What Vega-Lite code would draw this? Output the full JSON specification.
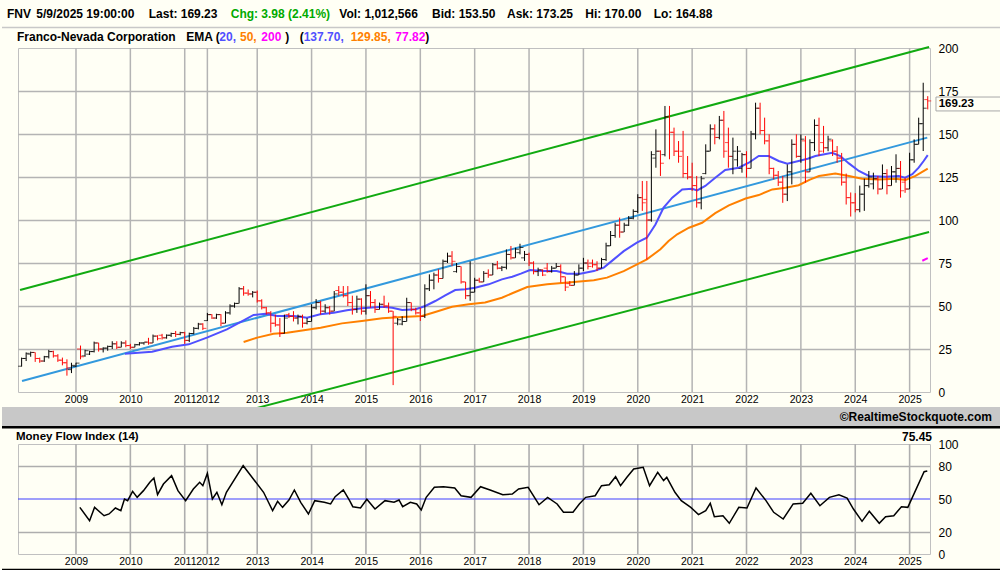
{
  "$schema": "https://vega.github.io/schema/vega-lite/v6.json",
  "description": "FNV monthly OHLC bars with EMA 20/50/200, regression channel and Money Flow Index (14).",
  "background": "#FFFFF5",
  "padding": 0,
  "autosize": {"type": "pad"},
  "bounds": "flush",
  "spacing": 52,
  "config": {
    "font": "Liberation Sans",
    "view": {"stroke": "#C0C0C0"},
    "axis": {"labelFont": "Liberation Sans", "labelColor": "#000000"}
  },
  "datasets": {
    "bars": [
      {"i":0,"o":15,"h":20,"l":14.8,"c":19.5},{"i":1,"o":19.5,"h":23,"l":18,"c":22.5},{"i":2,"o":22,"h":23.5,"l":20.5,"c":23},
      {"i":3,"o":23,"h":23,"l":17.5,"c":19.5},{"i":4,"o":19.5,"h":20,"l":17,"c":18},{"i":5,"o":18,"h":21,"l":17.5,"c":20.5},
      {"i":6,"o":20.5,"h":24.5,"l":19.5,"c":23.5},{"i":7,"o":23.5,"h":24,"l":20,"c":21},{"i":8,"o":21,"h":22,"l":17.5,"c":18.5},
      {"i":9,"o":18.5,"h":20,"l":15.5,"c":17},{"i":10,"o":17,"h":19,"l":9.5,"c":14},{"i":11,"o":13,"h":17,"l":11,"c":15.5},
      {"i":12,"o":15,"h":17,"l":14.5,"c":16.8},{"i":13,"o":25,"h":27,"l":19,"c":20.5},{"i":14,"o":21,"h":24.6,"l":20.5,"c":24},
      {"i":15,"o":22,"h":24,"l":21.5,"c":23.5},{"i":16,"o":23.5,"h":29.3,"l":23,"c":28.5},{"i":17,"o":28.5,"h":28.6,"l":23.5,"c":25},
      {"i":18,"o":25,"h":26,"l":23,"c":25.5},{"i":19,"o":25.5,"h":27,"l":24,"c":26.5},{"i":20,"o":26.5,"h":29.5,"l":25,"c":28},
      {"i":21,"o":28,"h":29.5,"l":25,"c":26},{"i":22,"o":26,"h":29.5,"l":26,"c":28.5},{"i":23,"o":28.5,"h":30,"l":26,"c":27},
      {"i":24,"o":27,"h":28,"l":25,"c":26},{"i":25,"o":26,"h":28,"l":26,"c":27.5},{"i":26,"o":27.5,"h":29,"l":27,"c":28.5},
      {"i":27,"o":28.5,"h":29,"l":27.5,"c":29},{"i":28,"o":29,"h":31.5,"l":27.5,"c":28.5},{"i":29,"o":28.5,"h":33.4,"l":28.5,"c":32.5},
      {"i":30,"o":32.5,"h":33,"l":30,"c":31},{"i":31,"o":33,"h":33.8,"l":30.5,"c":31.5},{"i":32,"o":31.5,"h":33.5,"l":31,"c":33},
      {"i":33,"o":33,"h":34.5,"l":32,"c":34},{"i":34,"o":34,"h":35.5,"l":32,"c":33.5},{"i":35,"o":33.5,"h":35,"l":33,"c":34.5},
      {"i":36,"o":34.5,"h":35,"l":28,"c":30},{"i":37,"o":30,"h":34.5,"l":29,"c":34},{"i":38,"o":34,"h":37.8,"l":33.5,"c":37},
      {"i":39,"o":37,"h":40.2,"l":36.4,"c":39.5},{"i":40,"o":39.5,"h":40,"l":36,"c":37},{"i":41,"o":41.5,"h":46,"l":41.3,"c":45},
      {"i":42,"o":45,"h":45.2,"l":42.5,"c":43},{"i":43,"o":43,"h":45.5,"l":42.5,"c":45},{"i":44,"o":45,"h":45.2,"l":38.3,"c":40},
      {"i":45,"o":40,"h":47,"l":40,"c":46},{"i":46,"o":46,"h":51,"l":45,"c":50},{"i":47,"o":50,"h":52,"l":49,"c":51.5},
      {"i":48,"o":51.5,"h":61,"l":51.5,"c":60},{"i":49,"o":60,"h":61.6,"l":56,"c":57.5},{"i":50,"o":57.5,"h":59.6,"l":56,"c":57},
      {"i":51,"o":57,"h":58.7,"l":55,"c":58},{"i":52,"o":58,"h":59,"l":52,"c":53},{"i":53,"o":53,"h":53.9,"l":48,"c":49},
      {"i":54,"o":49,"h":49.5,"l":45,"c":46},{"i":55,"o":46,"h":47,"l":34.6,"c":40},{"i":56,"o":40,"h":45,"l":38,"c":39},
      {"i":57,"o":39,"h":43,"l":32,"c":34},{"i":58,"o":34,"h":45,"l":34,"c":43},{"i":59,"o":45,"h":46,"l":43,"c":44},
      {"i":60,"o":44,"h":47,"l":41,"c":43},{"i":61,"o":43,"h":45,"l":39.3,"c":44},{"i":62,"o":44,"h":45,"l":37.4,"c":40},
      {"i":63,"o":40,"h":43,"l":39.3,"c":41},{"i":64,"o":41,"h":51,"l":41,"c":49},{"i":65,"o":49,"h":54,"l":48,"c":52},
      {"i":66,"o":52,"h":53,"l":45,"c":47},{"i":67,"o":47,"h":51,"l":46,"c":49},{"i":68,"o":49,"h":50,"l":45,"c":47},
      {"i":69,"o":47,"h":58.7,"l":47,"c":57},{"i":70,"o":59,"h":61.6,"l":56,"c":58},{"i":71,"o":58,"h":61.6,"l":55,"c":56},
      {"i":72,"o":56,"h":61.6,"l":50,"c":52},{"i":73,"o":52,"h":56,"l":45,"c":48},{"i":74,"o":48,"h":56,"l":46,"c":54},
      {"i":75,"o":54,"h":54.5,"l":45,"c":47},{"i":76,"o":47,"h":62.6,"l":45,"c":56},{"i":77,"o":56,"h":58.7,"l":49,"c":52},
      {"i":78,"o":52,"h":54,"l":46,"c":48},{"i":79,"o":48,"h":52,"l":48,"c":51},{"i":80,"o":51,"h":56,"l":49,"c":50},
      {"i":81,"o":50,"h":52,"l":46,"c":47},{"i":82,"o":47,"h":47,"l":4,"c":44},{"i":83,"o":40,"h":43,"l":38.8,"c":42},
      {"i":84,"o":39.5,"h":44,"l":38.8,"c":41},{"i":85,"o":41,"h":54.8,"l":41,"c":52},{"i":86,"o":52,"h":52,"l":47,"c":48},
      {"i":87,"o":48,"h":49,"l":45,"c":46},{"i":88,"o":46,"h":49,"l":41.3,"c":44},{"i":89,"o":44,"h":62.6,"l":43,"c":60},
      {"i":90,"o":60,"h":68.4,"l":58.7,"c":65},{"i":91,"o":65,"h":69.4,"l":59.7,"c":68},{"i":92,"o":68,"h":71.3,"l":63.6,"c":66},
      {"i":93,"o":66,"h":77,"l":66,"c":76},{"i":94,"o":76,"h":81,"l":75,"c":79},{"i":95,"o":79,"h":81.9,"l":73.3,"c":76},
      {"i":96,"o":70,"h":75,"l":69.4,"c":73},{"i":97,"o":73,"h":73,"l":63,"c":64},{"i":98,"o":64,"h":64,"l":54,"c":56},
      {"i":99,"o":56,"h":76,"l":53,"c":58},{"i":100,"o":58,"h":66.4,"l":58,"c":65},{"i":101,"o":65,"h":66.4,"l":63.6,"c":64},
      {"i":102,"o":64,"h":70.3,"l":64,"c":69},{"i":103,"o":69,"h":71.3,"l":66.4,"c":68},{"i":104,"o":68,"h":75,"l":68,"c":74},
      {"i":105,"o":74,"h":76.2,"l":71.3,"c":72},{"i":106,"o":72,"h":73.3,"l":70.3,"c":72.5},{"i":107,"o":72.5,"h":82.9,"l":71.3,"c":80},
      {"i":108,"o":80,"h":84.9,"l":77,"c":78},{"i":109,"o":78,"h":83.9,"l":78,"c":83},{"i":110,"o":81,"h":86.2,"l":80,"c":84},
      {"i":111,"o":78,"h":82,"l":76.2,"c":80},{"i":112,"o":80,"h":81,"l":73.3,"c":75},{"i":113,"o":75,"h":76,"l":68.4,"c":70},
      {"i":114,"o":70,"h":72.3,"l":67.4,"c":71},{"i":115,"o":71,"h":71.3,"l":67.4,"c":68},{"i":116,"o":72,"h":75,"l":69.4,"c":70},
      {"i":117,"o":70,"h":73.3,"l":69.4,"c":72},{"i":118,"o":72,"h":75,"l":72,"c":73},{"i":119,"o":73,"h":74.2,"l":63.6,"c":67},
      {"i":120,"o":67,"h":67,"l":58.7,"c":61},{"i":121,"o":63,"h":64.5,"l":61.6,"c":62},{"i":122,"o":62,"h":70.3,"l":62,"c":68},
      {"i":123,"o":68,"h":74.2,"l":68,"c":72},{"i":124,"o":72,"h":78,"l":70.3,"c":75},{"i":125,"o":75,"h":77,"l":71.3,"c":73},
      {"i":126,"o":75,"h":77,"l":72.3,"c":74},{"i":127,"o":74,"h":76,"l":70.3,"c":72},{"i":128,"o":72,"h":78,"l":72,"c":77},
      {"i":129,"o":77,"h":86.8,"l":76.2,"c":85},{"i":130,"o":85,"h":93.6,"l":84.9,"c":91},{"i":131,"o":91,"h":98.4,"l":89.7,"c":97},
      {"i":132,"o":97,"h":101.4,"l":89.7,"c":93},{"i":133,"o":93,"h":98.4,"l":93,"c":97},{"i":134,"o":97,"h":102.3,"l":96.5,"c":101},
      {"i":135,"o":101,"h":106.2,"l":100.4,"c":105},{"i":136,"o":105,"h":115,"l":104,"c":113},{"i":137,"o":113,"h":122.7,"l":105.3,"c":110},
      {"i":138,"o":112,"h":122.7,"l":77.1,"c":100},{"i":139,"o":100,"h":140,"l":99,"c":138},{"i":140,"o":136,"h":152.7,"l":130.4,"c":140},
      {"i":141,"o":140,"h":140.5,"l":125.6,"c":133},{"i":142,"o":138,"h":166.3,"l":137,"c":160},{"i":143,"o":160,"h":166.3,"l":135.3,"c":151},
      {"i":144,"o":151,"h":153.7,"l":137.2,"c":140},{"i":145,"o":140,"h":145.9,"l":133.3,"c":137},{"i":146,"o":140,"h":151.8,"l":124.6,"c":127},
      {"i":147,"o":127,"h":137.2,"l":123.6,"c":125},{"i":148,"o":125,"h":133.3,"l":116.9,"c":120},{"i":149,"o":120,"h":125.6,"l":107.2,"c":110},
      {"i":150,"o":110,"h":125.6,"l":106.2,"c":124},{"i":151,"o":127,"h":144,"l":126.6,"c":140},{"i":152,"o":140,"h":155.6,"l":140,"c":153},
      {"i":153,"o":153,"h":155.6,"l":144,"c":148},{"i":154,"o":148,"h":160.5,"l":146.9,"c":158},{"i":155,"o":158,"h":163.4,"l":136.2,"c":140},
      {"i":156,"o":145,"h":153.7,"l":130.4,"c":137},{"i":157,"o":137,"h":147.9,"l":126.6,"c":140},{"i":158,"o":135,"h":143,"l":131,"c":140},
      {"i":159,"o":130,"h":139,"l":127.5,"c":138},{"i":160,"o":138,"h":140,"l":124.6,"c":130},{"i":161,"o":130,"h":151.8,"l":130,"c":150},
      {"i":162,"o":150,"h":168.2,"l":146.9,"c":165},{"i":163,"o":165,"h":168.2,"l":149.8,"c":152},{"i":164,"o":152,"h":159.5,"l":144,"c":146},
      {"i":165,"o":146,"h":149.8,"l":126.6,"c":130},{"i":166,"o":130,"h":130.4,"l":123.6,"c":126},{"i":167,"o":126,"h":128.5,"l":119.8,"c":122},
      {"i":168,"o":122,"h":125.6,"l":110,"c":115},{"i":169,"o":115,"h":132.3,"l":111,"c":128},{"i":170,"o":128,"h":146.9,"l":120.7,"c":144},
      {"i":171,"o":144,"h":149.8,"l":136.2,"c":137},{"i":172,"o":137,"h":149.8,"l":133.3,"c":147},{"i":173,"o":146,"h":148.8,"l":121.7,"c":128},
      {"i":174,"o":128,"h":146.9,"l":128,"c":145},{"i":175,"o":145,"h":158.5,"l":140.1,"c":155},{"i":176,"o":155,"h":159.5,"l":137.2,"c":140},
      {"i":177,"o":145,"h":154.7,"l":139.1,"c":142},{"i":178,"o":142,"h":149,"l":140,"c":147},{"i":179,"o":146,"h":146.9,"l":137.2,"c":140},
      {"i":180,"o":140,"h":143,"l":133.3,"c":136},{"i":181,"o":136,"h":139,"l":120,"c":122},{"i":182,"o":122,"h":127,"l":109,"c":113},
      {"i":183,"o":113,"h":116,"l":102,"c":110},{"i":184,"o":110,"h":115.6,"l":104.5,"c":106},{"i":185,"o":106,"h":120,"l":104.5,"c":115},
      {"i":186,"o":115,"h":124,"l":105.3,"c":120},{"i":187,"o":120,"h":128.5,"l":118.8,"c":125},{"i":188,"o":121,"h":127.5,"l":117.8,"c":124},
      {"i":189,"o":124,"h":125.6,"l":114.9,"c":118},{"i":190,"o":118,"h":132.3,"l":118,"c":127},{"i":191,"o":127,"h":129.5,"l":114.9,"c":120},
      {"i":192,"o":120,"h":131.4,"l":120,"c":128},{"i":193,"o":128,"h":138.2,"l":121.7,"c":130},{"i":194,"o":130,"h":134.3,"l":113,"c":117},
      {"i":195,"o":122,"h":124.6,"l":115.8,"c":118},{"i":196,"o":118,"h":139.1,"l":118,"c":135},{"i":197,"o":135,"h":146.9,"l":133.3,"c":144},
      {"i":198,"o":144,"h":159.5,"l":144,"c":156},{"i":199,"o":156,"h":179.8,"l":140.1,"c":165},{"i":200,"o":170,"h":172,"l":164.3,"c":169.23}
    ],
    "channel": [
      {"line":"upper","i":-0.35,"v":59.3},{"line":"upper","i":200.3,"v":200.6},
      {"line":"mid","i":0.09,"v":6.4},{"line":"mid","i":199.9,"v":147.9},
      {"line":"lower","i":48,"v":-12.03},{"line":"lower","i":200.3,"v":93.0}
    ],
    "ema20": [
      {"i":22.8,"v":22.3},{"i":28.8,"v":23.4},{"i":33.2,"v":26.3},{"i":36.9,"v":27.7},{"i":40.9,"v":31.6},{"i":45.3,"v":36.4},
      {"i":49,"v":41.7},{"i":51.2,"v":44.8},{"i":53.8,"v":45.5},{"i":56.4,"v":44.2},{"i":60.1,"v":44.2},{"i":63,"v":43.2},
      {"i":65.9,"v":45.2},{"i":68.9,"v":46.1},{"i":71.8,"v":47.5},{"i":75.1,"v":48.7},{"i":79.6,"v":49.6},{"i":81.8,"v":49},
      {"i":84,"v":47.7},{"i":87,"v":48.1},{"i":89.1,"v":50},{"i":91.3,"v":52.9},{"i":93.5,"v":56.2},{"i":95.7,"v":59.3},
      {"i":97.9,"v":59.7},{"i":100.1,"v":60.6},{"i":103.1,"v":62.6},{"i":106,"v":65.5},{"i":108.3,"v":67},{"i":110.2,"v":68.8},
      {"i":112.2,"v":70.9},{"i":115.1,"v":70.3},{"i":118.1,"v":70.3},{"i":120.4,"v":68.8},{"i":123.3,"v":68.8},{"i":126.3,"v":70.3},
      {"i":128.5,"v":72.3},{"i":130.7,"v":77.1},{"i":132.9,"v":81.9},{"i":135.8,"v":86.8},{"i":138,"v":89.7},{"i":139.9,"v":97.4},
      {"i":141.7,"v":107.2},{"i":143.6,"v":113},{"i":145.8,"v":117.8},{"i":148,"v":118.2},{"i":149.1,"v":117.2},{"i":150.9,"v":119.8},
      {"i":153.1,"v":124.6},{"i":155.3,"v":129.1},{"i":158.3,"v":130.4},{"i":160.5,"v":133.3},{"i":162.7,"v":137.2},{"i":164.9,"v":137.2},
      {"i":167.1,"v":134.3},{"i":169,"v":132.7},{"i":171.5,"v":134.3},{"i":173.5,"v":135.6},{"i":175.2,"v":137.2},{"i":178.9,"v":139.1},
      {"i":180.7,"v":137.2},{"i":182.6,"v":132.9},{"i":184.8,"v":128.5},{"i":187,"v":125.6},{"i":190.7,"v":125.2},{"i":193.6,"v":125.6},
      {"i":195,"v":124.6},{"i":196.6,"v":126.6},{"i":198,"v":130.4},{"i":199.1,"v":134.3},{"i":200,"v":137.7}
    ],
    "ema50": [
      {"i":49,"v":29.1},{"i":52,"v":31.6},{"i":55.6,"v":33.9},{"i":58.6,"v":34.5},{"i":62.3,"v":35.9},{"i":66,"v":37.4},
      {"i":70.7,"v":39.9},{"i":75.1,"v":41.3},{"i":79.6,"v":42.9},{"i":84,"v":43.6},{"i":88.4,"v":44.2},{"i":91.3,"v":46.5},
      {"i":95,"v":49.6},{"i":98.7,"v":51},{"i":102.3,"v":52},{"i":106,"v":54.8},{"i":108.3,"v":57.4},{"i":111.6,"v":61},
      {"i":116,"v":62.6},{"i":121.9,"v":64},{"i":126.3,"v":65},{"i":129.2,"v":66.5},{"i":132.9,"v":70.3},{"i":136.6,"v":75.2},
      {"i":138,"v":77.1},{"i":141,"v":83},{"i":142.8,"v":87.8},{"i":144.7,"v":91.7},{"i":147.3,"v":95.5},{"i":150.2,"v":98.4},
      {"i":153.1,"v":104},{"i":156.1,"v":108.5},{"i":159.8,"v":112.5},{"i":162.7,"v":114.5},{"i":165.7,"v":117.8},{"i":168.6,"v":118.8},
      {"i":171.5,"v":120.2},{"i":174,"v":123.5},{"i":176,"v":125.6},{"i":179.6,"v":127},{"i":182.6,"v":125.6},{"i":185.5,"v":124},
      {"i":189.2,"v":123.6},{"i":192.9,"v":124},{"i":195.1,"v":123.3},{"i":197.3,"v":125.6},{"i":200,"v":129.85}
    ],
    "ema200": [{"i":198.8,"v":76.3},{"i":200,"v":77.82}],
    "mfi": [
      {"i":12.85,"v":42.4},{"i":15,"v":30.3},{"i":16.1,"v":42.4},{"i":18.2,"v":34.8},{"i":19.3,"v":36.4},{"i":20.7,"v":41.8},
      {"i":21.9,"v":39.4},{"i":22.7,"v":50},{"i":23.4,"v":48.5},{"i":24.5,"v":57},{"i":25.5,"v":51.5},{"i":26.9,"v":57.6},
      {"i":28.3,"v":65.2},{"i":29.2,"v":69.1},{"i":30,"v":54},{"i":31.3,"v":63.6},{"i":33.1,"v":71.2},{"i":34.5,"v":57.6},
      {"i":36.2,"v":48.5},{"i":37.9,"v":59.1},{"i":39.3,"v":65.2},{"i":40,"v":62.1},{"i":41,"v":73.3},{"i":42.1,"v":50},
      {"i":43.1,"v":56.1},{"i":44.2,"v":44.8},{"i":45.2,"v":56.1},{"i":48.9,"v":80.3},{"i":50.6,"v":71.2},{"i":53.4,"v":56.1},
      {"i":55.4,"v":39.4},{"i":56.5,"v":47.9},{"i":57.6,"v":42.4},{"i":59,"v":49.1},{"i":60.2,"v":58.2},{"i":61.6,"v":47},
      {"i":63.3,"v":36.4},{"i":64.7,"v":48.5},{"i":66.8,"v":47},{"i":68.2,"v":45.5},{"i":69.2,"v":52.1},{"i":71,"v":58.2},
      {"i":72.4,"v":48.5},{"i":73.1,"v":43},{"i":74.8,"v":41.8},{"i":76.2,"v":49.7},{"i":78,"v":40.9},{"i":80.2,"v":48.5},
      {"i":82.2,"v":47},{"i":83.3,"v":49.1},{"i":84.1,"v":43},{"i":85.8,"v":47},{"i":87.2,"v":45.5},{"i":88.2,"v":40},
      {"i":89.3,"v":51.5},{"i":91.1,"v":60.6},{"i":93.1,"v":61.2},{"i":95.6,"v":60},{"i":97,"v":53},{"i":99.2,"v":51.5},
      {"i":101.3,"v":61.2},{"i":103.4,"v":58.2},{"i":106.2,"v":53.9},{"i":108.3,"v":54.5},{"i":109.7,"v":59.1},{"i":111.8,"v":60.6},
      {"i":114.2,"v":44.8},{"i":116.1,"v":51.5},{"i":118.2,"v":45.5},{"i":119.6,"v":37.9},{"i":121.7,"v":37.9},{"i":123.1,"v":45.5},
      {"i":124.5,"v":51.5},{"i":126.6,"v":53},{"i":128,"v":62.1},{"i":129.7,"v":63},{"i":131.1,"v":70.3},{"i":132.2,"v":62.1},
      {"i":133.6,"v":69.7},{"i":135.1,"v":77.3},{"i":137.2,"v":78.8},{"i":138.6,"v":62.1},{"i":140.4,"v":74.2},{"i":141.7,"v":66.7},
      {"i":142.4,"v":69.7},{"i":144.2,"v":56.1},{"i":145.6,"v":48.5},{"i":147.7,"v":42.4},{"i":149.4,"v":35.8},{"i":151,"v":39.4},
      {"i":152,"v":46.1},{"i":152.9,"v":33.9},{"i":154.8,"v":34.8},{"i":156.2,"v":27.9},{"i":158.3,"v":42.4},{"i":160.1,"v":41.8},
      {"i":162.1,"v":60},{"i":164.3,"v":48.5},{"i":166,"v":37.9},{"i":168.1,"v":31.8},{"i":170.3,"v":45.5},{"i":172.4,"v":46.1},
      {"i":174.2,"v":55.2},{"i":176.2,"v":43.9},{"i":178.3,"v":51.5},{"i":180.4,"v":53.9},{"i":182.2,"v":50.9},{"i":183.6,"v":40.9},
      {"i":185.5,"v":29.7},{"i":187.1,"v":38.8},{"i":189.3,"v":27.9},{"i":190.7,"v":33.9},{"i":192.5,"v":34.8},{"i":194.2,"v":43},
      {"i":195.6,"v":42.4},{"i":199.2,"v":74.8},{"i":199.9,"v":75.45}
    ]
  },
  "vconcat": [
    {
      "width": 912,
      "height": 344,
      "resolve": {"axis": {"x": "independent", "y": "independent"}},
      "layer": [
        {
          "data": {"values": [{}]},
          "mark": {"type": "rect", "opacity": 0},
          "encoding": {
            "x": {"datum": -4.33158, "axis": null}, "x2": {"datum": 216.3921},
            "y": {"datum": 227.32558, "axis": null}, "y2": {"datum": -104.06977}
          }
        },
        {
          "data": {"name": "bars"},
          "transform": [{"filter": "indexof([12, 24, 36, 41, 52, 64, 76, 88, 100, 112, 124, 136, 148, 160, 172, 184, 196], datum.i) >= 0"}],
          "mark": {"type": "rule", "color": "#B4B4B4", "strokeWidth": 1.5},
          "encoding": {"x": {"field": "i", "type": "quantitative", "axis": null}}
        },
        {"data": {"values": [{}]}, "mark": {"type": "rule", "color": "#B4B4B4", "strokeWidth": 1.5, "yOffset": 0.5}, "encoding": {"y": {"datum": 25, "axis": null}}},
        {"data": {"values": [{}]}, "mark": {"type": "rule", "color": "#B4B4B4", "strokeWidth": 1.5, "yOffset": 0.5}, "encoding": {"y": {"datum": 50, "axis": null}}},
        {"data": {"values": [{}]}, "mark": {"type": "rule", "color": "#B4B4B4", "strokeWidth": 1.5, "yOffset": 0.5}, "encoding": {"y": {"datum": 75, "axis": null}}},
        {"data": {"values": [{}]}, "mark": {"type": "rule", "color": "#B4B4B4", "strokeWidth": 1.5, "yOffset": 0.5}, "encoding": {"y": {"datum": 100, "axis": null}}},
        {"data": {"values": [{}]}, "mark": {"type": "rule", "color": "#B4B4B4", "strokeWidth": 1.5, "yOffset": 0.5}, "encoding": {"y": {"datum": 125, "axis": null}}},
        {"data": {"values": [{}]}, "mark": {"type": "rule", "color": "#B4B4B4", "strokeWidth": 1.5, "yOffset": 0.5}, "encoding": {"y": {"datum": 150, "axis": null}}},
        {"data": {"values": [{}]}, "mark": {"type": "rule", "color": "#B4B4B4", "strokeWidth": 1.5, "yOffset": 0.5}, "encoding": {"y": {"datum": 175, "axis": null}}},
        {
          "data": {"values": [{}]},
          "mark": {"type": "rule", "color": "#C8C8C8", "strokeWidth": 1.5},
          "encoding": {
            "x": {"datum": -4.33158, "axis": null}, "x2": {"datum": 216.3921},
            "y": {"datum": 211.9, "axis": null}
          }
        },
        {
          "data": {"name": "channel"},
          "mark": {"type": "line", "strokeWidth": 2},
          "encoding": {
            "x": {"field": "i", "type": "quantitative", "axis": null},
            "y": {"field": "v", "type": "quantitative", "axis": null},
            "detail": {"field": "line"},
            "color": {
              "field": "line", "type": "nominal",
              "scale": {"domain": ["upper", "mid", "lower"], "range": ["#11AA11", "#3399DD", "#11AA11"]},
              "legend": null
            }
          }
        },
        {
          "data": {"name": "ema50"},
          "mark": {"type": "line", "color": "#FF8000", "strokeWidth": 2},
          "encoding": {
            "x": {"field": "i", "type": "quantitative", "axis": null},
            "y": {"field": "v", "type": "quantitative", "axis": null}
          }
        },
        {
          "data": {"name": "ema20"},
          "mark": {"type": "line", "color": "#5050FF", "strokeWidth": 2},
          "encoding": {
            "x": {"field": "i", "type": "quantitative", "axis": null},
            "y": {"field": "v", "type": "quantitative", "axis": null}
          }
        },
        {
          "data": {"name": "ema200"},
          "mark": {"type": "line", "color": "#FF00FF", "strokeWidth": 2},
          "encoding": {
            "x": {"field": "i", "type": "quantitative", "axis": null},
            "y": {"field": "v", "type": "quantitative", "axis": null}
          }
        },
        {
          "data": {"name": "bars"},
          "mark": {"type": "rule", "strokeWidth": 1},
          "encoding": {
            "x": {
              "field": "i", "type": "quantitative",
              "scale": {"domain": [-0.8, 200.5], "nice": false, "zero": false},
              "axis": {
                "values": [12, 24, 36, 41, 52, 64, 76, 88, 100, 112, 124, 136, 148, 160, 172, 184, 196],
                "labelExpr": "datum.value == 41 ? '2012' : '' + (datum.value < 41 ? 2008 + datum.value / 12 : 2013 + (datum.value - 52) / 12)",
                "title": null, "grid": false, "ticks": false, "domain": false,
                "labelPadding": 2, "labelFontSize": 10.5, "labelOverlap": false, "labelFlush": false
              }
            },
            "y": {
              "field": "h", "type": "quantitative",
              "scale": {"domain": [0, 200], "nice": false, "zero": false},
              "axis": {
                "orient": "right", "values": [0, 25, 50, 75, 100, 125, 150, 175, 200],
                "title": null, "grid": false, "ticks": false, "domain": false,
                "labelPadding": 8, "labelFontSize": 12, "labelAlign": "left", "labelOverlap": false
              }
            },
            "y2": {"field": "l"},
            "color": {"condition": {"test": "datum.c < datum.o", "value": "#FF0000"}, "value": "#000000"}
          }
        },
        {
          "data": {"name": "bars"},
          "mark": {"type": "tick", "orient": "horizontal", "size": 3.5, "thickness": 1, "xOffset": -1.75},
          "encoding": {
            "x": {"field": "i", "type": "quantitative", "axis": null},
            "y": {"field": "o", "type": "quantitative", "axis": null},
            "color": {"condition": {"test": "datum.c < datum.o", "value": "#FF0000"}, "value": "#000000"}
          }
        },
        {
          "data": {"name": "bars"},
          "mark": {"type": "tick", "orient": "horizontal", "size": 3.5, "thickness": 1, "xOffset": 1.75},
          "encoding": {
            "x": {"field": "i", "type": "quantitative", "axis": null},
            "y": {"field": "c", "type": "quantitative", "axis": null},
            "color": {"condition": {"test": "datum.c < datum.o", "value": "#FF0000"}, "value": "#000000"}
          }
        },
        {
          "data": {"values": [{}]},
          "mark": {"type": "rect", "color": "#C8C8C8"},
          "encoding": {
            "x": {"datum": -4.33158, "axis": null}, "x2": {"datum": 216.3921},
            "y": {"datum": -8.72, "axis": null}, "y2": {"datum": -19.77}
          }
        },
        {
          "data": {"values": [{}]},
          "mark": {"type": "rect", "color": "#000000"},
          "encoding": {
            "x": {"datum": -4.33158, "axis": null}, "x2": {"datum": 216.3921},
            "y": {"datum": -19.77, "axis": null}, "y2": {"datum": -21.22}
          }
        },
        {
          "data": {"values": [{}]},
          "mark": {"type": "rect", "color": "#000000"},
          "encoding": {
            "x": {"datum": -4.33158, "axis": null}, "x2": {"datum": 216.3921},
            "y": {"datum": -102.73, "axis": null}, "y2": {"datum": -104.06977}
          }
        },
        {"data": {"values": [{}]}, "mark": {"type": "text", "text": "FNV", "align": "left", "baseline": "middle", "fontSize": 12, "fontWeight": "bold", "color": "#000000"},
         "encoding": {"x": {"datum": -3.23, "axis": null}, "y": {"datum": 219.6, "axis": null}}},
        {"data": {"values": [{}]}, "mark": {"type": "text", "text": "5/9/2025 19:00:00", "align": "left", "baseline": "middle", "fontSize": 12, "fontWeight": "bold", "color": "#000000"},
         "encoding": {"x": {"datum": 3.24, "axis": null}, "y": {"datum": 219.6, "axis": null}}},
        {"data": {"values": [{}]}, "mark": {"type": "text", "text": "Last: 169.23", "align": "left", "baseline": "middle", "fontSize": 12, "fontWeight": "bold", "color": "#000000"},
         "encoding": {"x": {"datum": 28.05, "axis": null}, "y": {"datum": 219.6, "axis": null}}},
        {"data": {"values": [{}]}, "mark": {"type": "text", "text": "Chg: 3.98 (2.41%)", "align": "left", "baseline": "middle", "fontSize": 12, "fontWeight": "bold", "color": "#00AA00"},
         "encoding": {"x": {"datum": 46.15, "axis": null}, "y": {"datum": 219.6, "axis": null}}},
        {"data": {"values": [{}]}, "mark": {"type": "text", "text": "Vol: 1,012,566", "align": "left", "baseline": "middle", "fontSize": 12, "fontWeight": "bold", "color": "#000000"},
         "encoding": {"x": {"datum": 70.12, "axis": null}, "y": {"datum": 219.6, "axis": null}}},
        {"data": {"values": [{}]}, "mark": {"type": "text", "text": "Bid: 153.50", "align": "left", "baseline": "middle", "fontSize": 12, "fontWeight": "bold", "color": "#000000"},
         "encoding": {"x": {"datum": 90.58, "axis": null}, "y": {"datum": 219.6, "axis": null}}},
        {"data": {"values": [{}]}, "mark": {"type": "text", "text": "Ask: 173.25", "align": "left", "baseline": "middle", "fontSize": 12, "fontWeight": "bold", "color": "#000000"},
         "encoding": {"x": {"datum": 107.13, "axis": null}, "y": {"datum": 219.6, "axis": null}}},
        {"data": {"values": [{}]}, "mark": {"type": "text", "text": "Hi: 170.00", "align": "left", "baseline": "middle", "fontSize": 12, "fontWeight": "bold", "color": "#000000"},
         "encoding": {"x": {"datum": 124.41, "axis": null}, "y": {"datum": 219.6, "axis": null}}},
        {"data": {"values": [{}]}, "mark": {"type": "text", "text": "Lo: 164.88", "align": "left", "baseline": "middle", "fontSize": 12, "fontWeight": "bold", "color": "#000000"},
         "encoding": {"x": {"datum": 139.51, "axis": null}, "y": {"datum": 219.6, "axis": null}}},
        {"data": {"values": [{}]}, "mark": {"type": "text", "text": "Franco-Nevada Corporation", "align": "left", "baseline": "middle", "fontSize": 12, "fontWeight": "bold", "color": "#000000"},
         "encoding": {"x": {"datum": -1.02, "axis": null}, "y": {"datum": 206.4, "axis": null}}},
        {"data": {"values": [{}]}, "mark": {"type": "text", "text": "EMA (", "align": "left", "baseline": "middle", "fontSize": 12, "fontWeight": "bold", "color": "#000000"},
         "encoding": {"x": {"datum": 36.35, "axis": null}, "y": {"datum": 206.4, "axis": null}}},
        {"data": {"values": [{}]}, "mark": {"type": "text", "text": "20,", "align": "left", "baseline": "middle", "fontSize": 12, "fontWeight": "bold", "color": "#5050FF"},
         "encoding": {"x": {"datum": 43.63, "axis": null}, "y": {"datum": 206.4, "axis": null}}},
        {"data": {"values": [{}]}, "mark": {"type": "text", "text": "50,", "align": "left", "baseline": "middle", "fontSize": 12, "fontWeight": "bold", "color": "#FF8000"},
         "encoding": {"x": {"datum": 48.2, "axis": null}, "y": {"datum": 206.4, "axis": null}}},
        {"data": {"values": [{}]}, "mark": {"type": "text", "text": "200", "align": "left", "baseline": "middle", "fontSize": 12, "fontWeight": "bold", "color": "#FF00FF"},
         "encoding": {"x": {"datum": 52.9, "axis": null}, "y": {"datum": 206.4, "axis": null}}},
        {"data": {"values": [{}]}, "mark": {"type": "text", "text": ")", "align": "left", "baseline": "middle", "fontSize": 12, "fontWeight": "bold", "color": "#000000"},
         "encoding": {"x": {"datum": 58.2, "axis": null}, "y": {"datum": 206.4, "axis": null}}},
        {"data": {"values": [{}]}, "mark": {"type": "text", "text": "(", "align": "left", "baseline": "middle", "fontSize": 12, "fontWeight": "bold", "color": "#000000"},
         "encoding": {"x": {"datum": 61.38, "axis": null}, "y": {"datum": 206.4, "axis": null}}},
        {"data": {"values": [{}]}, "mark": {"type": "text", "text": "137.70,", "align": "left", "baseline": "middle", "fontSize": 12, "fontWeight": "bold", "color": "#5050FF"},
         "encoding": {"x": {"datum": 62.26, "axis": null}, "y": {"datum": 206.4, "axis": null}}},
        {"data": {"values": [{}]}, "mark": {"type": "text", "text": "129.85,", "align": "left", "baseline": "middle", "fontSize": 12, "fontWeight": "bold", "color": "#FF8000"},
         "encoding": {"x": {"datum": 72.63, "axis": null}, "y": {"datum": 206.4, "axis": null}}},
        {"data": {"values": [{}]}, "mark": {"type": "text", "text": "77.82", "align": "left", "baseline": "middle", "fontSize": 12, "fontWeight": "bold", "color": "#FF00FF"},
         "encoding": {"x": {"datum": 82.48, "axis": null}, "y": {"datum": 206.4, "axis": null}}},
        {"data": {"values": [{}]}, "mark": {"type": "text", "text": ")", "align": "left", "baseline": "middle", "fontSize": 12, "fontWeight": "bold", "color": "#000000"},
         "encoding": {"x": {"datum": 89.1, "axis": null}, "y": {"datum": 206.4, "axis": null}}},
        {
          "data": {"values": [{}]},
          "mark": {"type": "rect", "filled": false, "color": "#A8A8A8", "strokeWidth": 1},
          "encoding": {
            "x": {"datum": 201.82, "axis": null}, "x2": {"datum": 216.17},
            "y": {"datum": 171.5, "axis": null}, "y2": {"datum": 163.4}
          }
        },
        {"data": {"values": [{}]}, "mark": {"type": "text", "text": "169.23", "align": "left", "baseline": "middle", "fontSize": 11.5, "fontWeight": "bold", "color": "#000000"},
         "encoding": {"x": {"datum": 202.42, "axis": null}, "y": {"datum": 167.4, "axis": null}}},
        {"data": {"values": [{}]}, "mark": {"type": "text", "text": "©RealtimeStockquote.com", "align": "right", "baseline": "middle", "fontSize": 12, "fontWeight": "bold", "color": "#000000"},
         "encoding": {"x": {"datum": 214.18, "axis": null}, "y": {"datum": -14.53, "axis": null}}}
      ]
    },
    {
      "width": 912,
      "height": 110,
      "resolve": {"axis": {"x": "independent", "y": "independent"}},
      "layer": [
        {
          "data": {"name": "bars"},
          "transform": [{"filter": "indexof([12, 24, 36, 41, 52, 64, 76, 88, 100, 112, 124, 136, 148, 160, 172, 184, 196], datum.i) >= 0"}],
          "mark": {"type": "rule", "color": "#AEAEAE", "strokeWidth": 1.6},
          "encoding": {"x": {"field": "i", "type": "quantitative", "axis": null}}
        },
        {"data": {"values": [{}]}, "mark": {"type": "rule", "color": "#AEAEAE", "strokeWidth": 1.6, "yOffset": 0.5}, "encoding": {"y": {"datum": 20, "axis": null}}},
        {"data": {"values": [{}]}, "mark": {"type": "rule", "color": "#AEAEAE", "strokeWidth": 1.6, "yOffset": 0.5}, "encoding": {"y": {"datum": 80, "axis": null}}},
        {
          "data": {"values": [{}]},
          "mark": {"type": "rule", "color": "#4040FF", "strokeWidth": 1.2},
          "encoding": {"y": {"datum": 50, "axis": null}}
        },
        {
          "data": {"name": "mfi"},
          "mark": {"type": "line", "color": "#000000", "strokeWidth": 1.5},
          "encoding": {
            "x": {
              "field": "i", "type": "quantitative",
              "scale": {"domain": [-0.8, 200.5], "nice": false, "zero": false},
              "axis": {
                "values": [12, 24, 36, 41, 52, 64, 76, 88, 100, 112, 124, 136, 148, 160, 172, 184, 196],
                "labelExpr": "datum.value == 41 ? '2012' : '' + (datum.value < 41 ? 2008 + datum.value / 12 : 2013 + (datum.value - 52) / 12)",
                "title": null, "grid": false, "ticks": false, "domain": false,
                "labelPadding": 2, "labelFontSize": 10.5, "labelOverlap": false, "labelFlush": false
              }
            },
            "y": {
              "field": "v", "type": "quantitative",
              "scale": {"domain": [0, 100], "nice": false, "zero": false},
              "axis": {
                "orient": "right", "values": [0, 20, 50, 80, 100],
                "title": null, "grid": false, "ticks": false, "domain": false,
                "labelPadding": 8, "labelFontSize": 12, "labelAlign": "left", "labelOverlap": false
              }
            }
          }
        },
        {"data": {"values": [{}]}, "mark": {"type": "text", "text": "Money Flow Index (14)", "align": "left", "baseline": "middle", "fontSize": 11.5, "fontWeight": "bold", "color": "#000000"},
         "encoding": {"x": {"datum": -1.24, "axis": null}, "y": {"datum": 106.4, "axis": null}}},
        {"data": {"values": [{}]}, "mark": {"type": "text", "text": "75.45", "align": "right", "baseline": "middle", "fontSize": 12, "fontWeight": "bold", "color": "#000000"},
         "encoding": {"x": {"datum": 200.94, "axis": null}, "y": {"datum": 106.4, "axis": null}}}
      ]
    }
  ]
}
